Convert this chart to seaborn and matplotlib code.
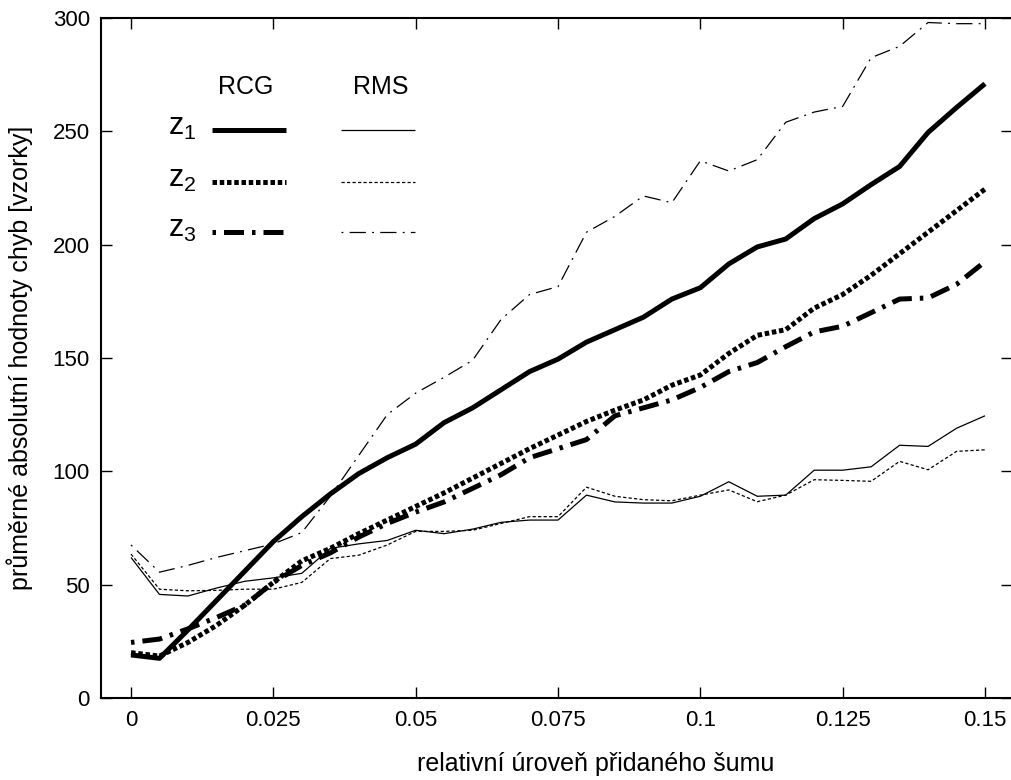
import numpy as np
import pandas as pd
import matplotlib
matplotlib.use("Agg")
import matplotlib.pyplot as plt
import seaborn as sns

# ---- data ----
noise_levels = [0.000, 0.005, 0.010, 0.015, 0.020, 0.025, 0.030, 0.035, 0.040, 0.045,
                0.050, 0.055, 0.060, 0.065, 0.070, 0.075, 0.080, 0.085, 0.090, 0.095,
                0.100, 0.105, 0.110, 0.115, 0.120, 0.125, 0.130, 0.135, 0.140, 0.145, 0.150]

rcg_z1 = [19, 17.5, 30, 43, 56, 69, 80, 90, 99, 106, 112, 121.5, 128, 136, 144, 149.5,
          157, 162.5, 168, 176, 181, 191.5, 199, 202.5, 211.5, 218, 226.5, 234.5, 249.5, 260.5, 271]
rcg_z2 = [20, 18.5, 24.5, 32, 41, 51, 60.5, 66, 72.5, 78.5, 84.5, 90.5, 97, 103.5, 110, 116,
          122, 127, 131.5, 138, 142.5, 152, 160, 162.5, 172, 178, 186.5, 196, 205.5, 215, 224.5]
rcg_z3 = [24.5, 26, 30.5, 35.5, 41, 51, 58.5, 64, 71, 77, 82, 86.5, 92.5, 98.5, 106, 110,
          114, 124.5, 128, 131.5, 137, 144, 148, 155, 161.5, 164, 170, 176, 176.5, 182.5, 192.5]
rms_z1 = [62, 45.7, 45, 48.5, 51.5, 53, 55, 66, 68, 69.5, 74, 72.5, 74.5, 77.5, 78.5, 78.5,
          89.5, 86.5, 86, 86, 89, 95.4, 89, 89.5, 100.5, 100.5, 102, 111.5, 111, 119, 124.5]
rms_z2 = [63.5, 48, 47.3, 47.5, 48, 48, 51, 61.5, 63, 67.5, 73.5, 73.5, 74, 77, 80, 80,
          93, 89, 87.5, 87, 89.5, 91.8, 86.6, 89.5, 96.3, 96, 95.6, 104.4, 100.7, 108.8, 109.5]
rms_z3 = [67.5, 55.5, 58.5, 62, 65, 68, 73, 89, 107, 125, 134.5, 141.5, 149, 167, 178, 181.5,
          205.5, 212.5, 221.5, 218.5, 237, 232.5, 237.5, 254, 258.5, 261, 282.5, 287.5, 298, 297.5, 297.5]

x_ticks = [0, 0.025, 0.05, 0.075, 0.1, 0.125, 0.15]
x_tick_labels = ["0", "0.025", "0.05", "0.075", "0.1", "0.125", "0.15"]
y_ticks = [0, 50, 100, 150, 200, 250, 300]
method_headers = ["RCG", "RMS"]
series_labels = ["$z_1$", "$z_2$", "$z_3$"]

# ---- styling ----
sns.set_theme(style="ticks")
plt.rcParams["font.family"] = ["Liberation Sans", "DejaVu Sans"]
plt.rcParams["mathtext.default"] = "regular"
plt.rcParams["mathtext.fontset"] = "custom"
plt.rcParams["mathtext.rm"] = "Liberation Sans"
plt.rcParams["text.color"] = "black"
plt.rcParams["axes.labelcolor"] = "black"

thick = 3.6
thin = 0.9
styles = {
    ("RCG", 0): dict(lw=thick, ls="-"),
    ("RCG", 1): dict(lw=thick, ls=(0, (0.9, 0.55))),
    ("RCG", 2): dict(lw=thick, ls=(0, (0.7, 1.6, 4.0, 1.6))),
    ("RMS", 0): dict(lw=thin, ls="-"),
    ("RMS", 1): dict(lw=thin, ls=(0, (2.6, 1.8))),
    ("RMS", 2): dict(lw=thin, ls=(0, (1.5, 5.0, 13.0, 5.0))),
}

series = {("RCG", 0): rcg_z1, ("RCG", 1): rcg_z2, ("RCG", 2): rcg_z3,
          ("RMS", 0): rms_z1, ("RMS", 1): rms_z2, ("RMS", 2): rms_z3}

fig = plt.figure(figsize=(10.12, 7.8), dpi=100)
ax = fig.add_axes([101 / 1012, 82 / 780, 911 / 1012, 680 / 780])

for key, vals in series.items():
    df = pd.DataFrame({"x": noise_levels, "y": vals})
    st = styles[key]
    sns.lineplot(data=df, x="x", y="y", ax=ax, color="black",
                 linewidth=st["lw"], linestyle=st["ls"],
                 dash_capstyle="butt", solid_joinstyle="round", solid_capstyle="butt")

px_per_unit = 142.3 / 0.025
ax.set_xlim(-30 / px_per_unit, 0.15 + 27 / px_per_unit)
ax.set_ylim(0, 300)
ax.set_xticks(x_ticks)
ax.set_xticklabels(x_tick_labels)
ax.set_yticks(y_ticks)
ax.tick_params(direction="in", length=8, width=1.0, top=True, right=True,
               labelsize=16, colors="black")
ax.tick_params(axis="x", pad=9)
ax.tick_params(axis="y", pad=8)
for s in ["left", "bottom", "top"]:
    ax.spines[s].set_linewidth(1.5)
    ax.spines[s].set_color("black")
ax.spines["right"].set_visible(False)

ax.set_xlabel("relativní úroveň přidaného šumu", fontsize=18)
ax.xaxis.set_label_coords((596 - 101) / 911, (698 - 752) / 680)
ax.set_ylabel("průměrné absolutní hodnoty chyb [vzorky]", fontsize=18, labelpad=14)

# ---- custom legend (axes fraction) ----
tr = ax.transAxes
header_y = (698 - 87) / 680
ax.text((246 - 101) / 911, header_y, method_headers[0], transform=tr,
        ha="center", va="center", fontsize=18)
ax.text((381 - 101) / 911, header_y, method_headers[1], transform=tr,
        ha="center", va="center", fontsize=18)
row_y = [(698 - 130) / 680, (698 - 182) / 680, (698 - 232) / 680]
rcg_span = [(212 - 101) / 911, (286 - 101) / 911]
rms_span = [(341 - 101) / 911, (415 - 101) / 911]
for i, yy in enumerate(row_y):
    ax.text((168 - 101) / 911, yy + 0.004, series_labels[i], transform=tr,
            ha="left", va="center", fontsize=22)
    for meth, span in (("RCG", rcg_span), ("RMS", rms_span)):
        st = styles[(meth, i)]
        ax.plot(span, [yy, yy], transform=tr, color="black", lw=st["lw"],
                ls=st["ls"], dash_capstyle="butt", solid_capstyle="butt")

fig.savefig("out.png", dpi=100)
